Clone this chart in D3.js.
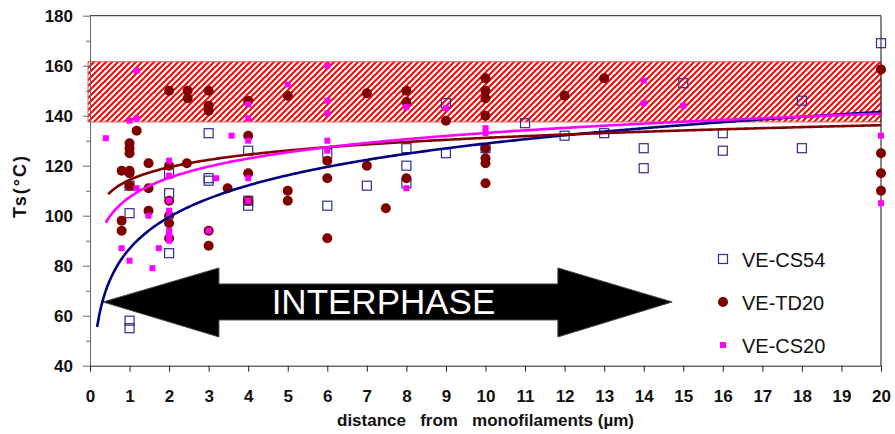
<!DOCTYPE html>
<html>
<head>
<meta charset="utf-8">
<script src="https://cdn.jsdelivr.net/npm/d3@7"></script>
<style>
  body { margin: 0; background: #fff; }
  text { font-family: "Liberation Sans", Arial, sans-serif; }
</style>
</head>
<body>
<div id="chart"></div>
<script>
// points, [distance, Ts]
var cs54 = [[1, 101], [1, 112], [1, 58], [1, 55], [2, 117], [2, 109], [2, 85], [3, 133], [3, 115], [3, 114],
    [4, 126], [4, 106], [4, 104], [6, 125], [6, 104], [7, 112], [8, 127], [8, 120], [8, 113], [9, 145], [9, 125],
    [10, 127], [11, 137], [12, 132], [13, 133], [14, 127], [14, 119], [15, 153], [16, 133], [16, 126],
    [18, 146], [18, 127], [20, 169]];

var td20 = [[0.8, 118], [0.8, 98], [0.8, 94], [1, 129], [1, 127], [1, 125], [1, 118], [1, 117], [1, 112],
    [1.18, 134], [1.48, 121], [1.48, 111], [1.48, 102], [2, 150], [2, 120], [2, 106], [2, 100], [2, 97], [2, 91],
    [2.47, 150], [2.47, 147], [2.45, 121], [3, 150], [3, 144], [3, 142], [3, 94], [3, 88], [3.48, 111],
    [4, 146], [4, 132], [4, 117], [4, 106], [5, 148], [5, 110], [5, 106], [6, 122], [6, 115], [6, 91],
    [7, 149], [7, 120], [7.48, 103], [8, 150], [8, 145.5], [8, 115], [9, 138],
    [10, 155], [10, 150], [10, 147], [10, 140], [10, 127], [10, 123], [10, 121], [10, 113],
    [12, 148], [13, 155], [20, 158.5], [20, 125], [20, 117], [20, 110]];

var cs20 = [[0.4, 131], [0.8, 87], [1, 138], [1, 82], [1.18, 158], [1.18, 139], [1.18, 111], [1.48, 100],
    [1.58, 79], [1.74, 87], [2, 122], [2, 116], [2, 106], [2, 102], [2, 100], [2, 94], [2, 92], [2, 90],
    [3, 94], [3.19, 115], [3.58, 132], [4, 144.5], [4, 139], [4, 130], [4, 115], [4, 106], [5, 152.5],
    [6, 160], [6, 146], [6, 141], [6, 130], [6, 126], [8, 143.5], [8, 111], [9, 143], [10, 135], [10, 133],
    [14, 154], [14, 145], [15, 144], [20, 132], [20, 105]];

// log trendlines y = a + b*ln(x)
var trendNames = ["VE-CS54", "VE-TD20", "VE-CS20"];
var trendA = [86.8, 114.3, 107.4];
var trendB = [18.26, 7.31, 11.15];
var trendFrom = [0.18, 0.46, 0.4];

var seriesNames = ["VE-CS54", "VE-TD20", "VE-CS20"];
var xTicks = d3.range(0, 21, 1);
var yTicks = d3.range(40, 181, 20);
var yMinor = d3.range(50, 180, 20);
var band = [137.5, 161.6];   // hatched Ts range

(function () {
    var width = 895
    var height = 434

    var x = d3.scaleLinear().domain([0, 20]).range([90, 881])
    var y = d3.scaleLinear().domain([40, 180]).range([365.7, 15.7])

    var svg = d3.select("#chart")
        .append("svg")
        .attr("width", width)
        .attr("height", height)

    // red diagonal hatch for the band
    svg.append("defs")
        .append("pattern")
        .attr("id", "hatch")
        .attr("patternUnits", "userSpaceOnUse")
        .attr("width", 6)
        .attr("height", 6)
        .append("path")
        .attr("d", "M-1,1 l2,-2 M0,6 l6,-6 M5,7 l2,-2")
        .attr("stroke", "#ff0000")
        .attr("stroke-width", 2)

    svg.append("rect")
        .attr("x", x(0) - 2)
        .attr("y", y(band[1]))
        .attr("width", x(20) - x(0) + 2)
        .attr("height", y(band[0]) - y(band[1]))
        .attr("fill", "url(#hatch)")
        .attr("stroke", "#ff5a5a")
        .attr("stroke-width", 1)

    // axes
    var yAxis = svg.append("g")
        .attr("transform", "translate(" + x(0) + ",0)")
        .call(d3.axisLeft(y).tickValues(yTicks).tickSize(7).tickSizeOuter(0).tickPadding(10))
    yAxis.select(".domain").attr("stroke", "#666")
    yAxis.selectAll(".tick line").attr("stroke", "#666")
    yAxis.selectAll("text")
        .style("font-size", "17px")
        .style("font-weight", "bold")
        .attr("fill", "#111")

    var yMinorAxis = svg.append("g")
        .attr("transform", "translate(" + x(0) + ",0)")
        .call(d3.axisLeft(y).tickValues(yMinor).tickSize(4).tickSizeOuter(0).tickFormat(""))
    yMinorAxis.select(".domain").remove()
    yMinorAxis.selectAll(".tick line").attr("stroke", "#666")

    var xAxis = svg.append("g")
        .attr("transform", "translate(0," + y(40) + ")")
        .call(d3.axisBottom(x).tickValues(xTicks).tickSize(6).tickSizeOuter(0).tickPadding(18))
    xAxis.select(".domain").attr("stroke", "#222")
    xAxis.selectAll(".tick line").attr("stroke", "#222")
    xAxis.selectAll("text")
        .style("font-size", "17px")
        .style("font-weight", "bold")
        .attr("fill", "#111")

    // top and right frame
    svg.append("line")
        .attr("x1", x(0)).attr("x2", x(20))
        .attr("y1", y(180)).attr("y2", y(180))
        .attr("stroke", "#222")
    svg.append("line")
        .attr("x1", x(20)).attr("x2", x(20))
        .attr("y1", y(180)).attr("y2", y(40))
        .attr("stroke", "#111")

    // axis titles
    svg.append("text")
        .attr("x", (x(0) + x(20)) / 2)
        .attr("y", 426)
        .attr("text-anchor", "middle")
        .style("font-size", "17px")
        .style("font-weight", "bold")
        .style("white-space", "pre")
        .attr("fill", "#111")
        .text("distance   from   monofilaments (\u00b5m)")

    svg.append("text")
        .attr("transform", "translate(26,186) rotate(-90)")
        .attr("text-anchor", "middle")
        .style("font-size", "18px")
        .style("font-weight", "bold")
        .style("letter-spacing", "2px")
        .attr("fill", "#111")
        .text("Ts(\u00b0C)")

    // the INTERPHASE double arrow, in data units
    var ax = [0.33, 3.26, 11.83, 14.72]
    var ay = [51.5, 58.3, 65.5, 72.7, 79.1]
    var arrowPts = [
        [ax[0], ay[2]], [ax[1], ay[4]], [ax[1], ay[3]], [ax[2], ay[3]], [ax[2], ay[4]],
        [ax[3], ay[2]], [ax[2], ay[0]], [ax[2], ay[1]], [ax[1], ay[1]], [ax[1], ay[0]]
    ]
    svg.append("path")
        .attr("d", d3.line().x(function (d) { return x(d[0]) }).y(function (d) { return y(d[1]) })(arrowPts) + "Z")
        .attr("fill", "#000")
        .attr("stroke", "#444")
        .attr("stroke-width", 1)

    svg.append("text")
        .attr("x", x(7.42))
        .attr("y", y(ay[2]) + 12.5)
        .attr("text-anchor", "middle")
        .style("font-size", "35px")
        .attr("fill", "#fff")
        .text("INTERPHASE")

    // markers: blue squares, brown dots, magenta small squares
    svg.append("g")
        .selectAll("rect")
        .data(cs54)
        .enter()
        .append("rect")
        .attr("x", function (d) { return x(d[0]) - 4.5 })
        .attr("y", function (d) { return y(d[1]) - 4.5 })
        .attr("width", 9)
        .attr("height", 9)
        .attr("fill", "none")
        .attr("stroke", "#2e2e96")
        .attr("stroke-width", 1.2)

    svg.append("g")
        .selectAll("circle")
        .data(td20)
        .enter()
        .append("circle")
        .attr("cx", function (d) { return x(d[0]) })
        .attr("cy", function (d) { return y(d[1]) })
        .attr("r", 5)
        .attr("fill", "#800000")

    svg.append("g")
        .selectAll("rect")
        .data(cs20)
        .enter()
        .append("rect")
        .attr("x", function (d) { return x(d[0]) - 3 })
        .attr("y", function (d) { return y(d[1]) - 3 })
        .attr("width", 6)
        .attr("height", 6)
        .attr("fill", "#ff00ff")

    // trendlines on top
    var trendColors = ["#000080", "#800000", "#ff00ff"]
    var line = d3.line()
        .x(function (d) { return x(d[0]) })
        .y(function (d) { return y(d[1]) })
    trendNames.forEach(function (name, i) {
        var xs = d3.range(trendFrom[i], 20, 0.05).concat([20])
        var pts = xs.map(function (v) { return [v, trendA[i] + trendB[i] * Math.log(v)] })
        svg.append("path")
            .attr("d", line(pts))
            .attr("fill", "none")
            .attr("stroke", trendColors[i])
            .attr("stroke-width", 2.6)
    })

    // legend
    var lg = svg.append("g")
    var legendY = [259, 302, 345]
    seriesNames.forEach(function (name, i) {
        var cy = legendY[i]
        if (i == 0) {
            lg.append("rect").attr("x", 718.5).attr("y", cy - 4.5).attr("width", 9).attr("height", 9)
                .attr("fill", "none").attr("stroke", "#2e2e96").attr("stroke-width", 1.2)
        } else if (i == 1) {
            lg.append("circle").attr("cx", 723).attr("cy", cy).attr("r", 5).attr("fill", "#800000")
        } else {
            lg.append("rect").attr("x", 720).attr("y", cy - 3).attr("width", 6).attr("height", 6)
                .attr("fill", "#ff00ff")
        }
        lg.append("text")
            .attr("x", 742)
            .attr("y", cy + 7.5)
            .style("font-size", "20px")
            .attr("fill", "#111")
            .text(name)
    })
})();
</script>
</body>
</html>
